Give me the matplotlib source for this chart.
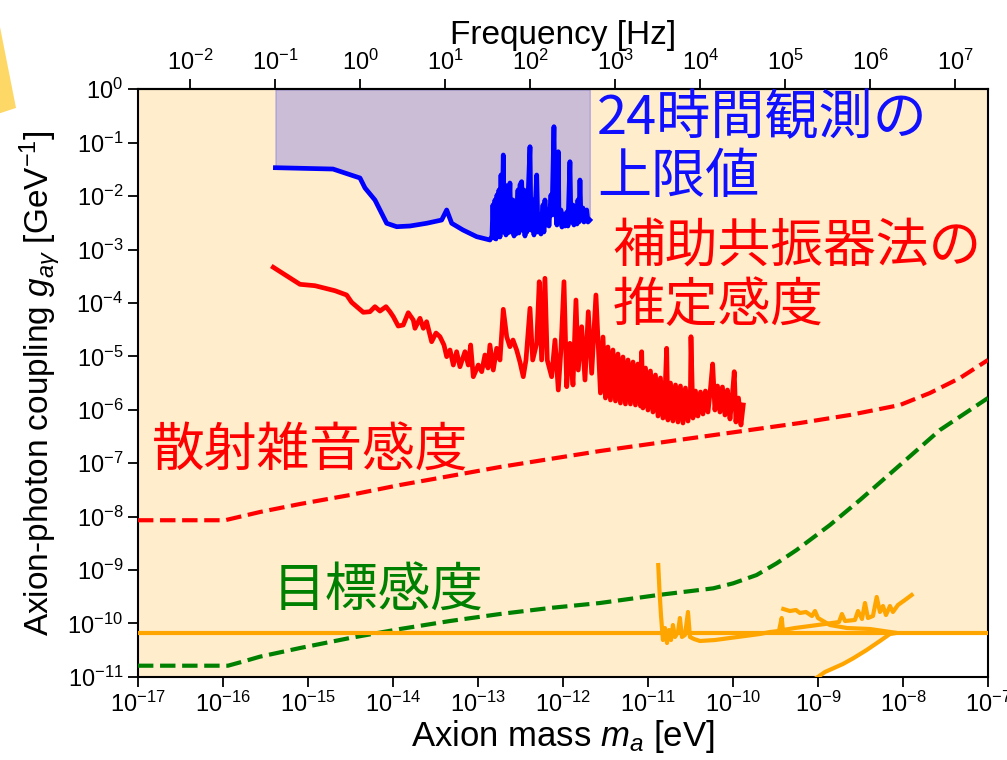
import numpy as np
import matplotlib
matplotlib.use('Agg')
import matplotlib.pyplot as plt
from matplotlib.patches import Polygon
from matplotlib.ticker import FixedLocator, NullLocator, LogFormatterSciNotation

plt.rcParams['font.family'] = ['Liberation Sans', 'DejaVu Sans']
plt.rcParams['mathtext.fontset'] = 'custom'
plt.rcParams['mathtext.rm'] = 'Liberation Sans'
plt.rcParams['mathtext.it'] = 'Liberation Sans:italic'

H_EV = 4.1357e-15  # eV s, m [eV] -> f [Hz]

# ---- data (log10 of axion mass [eV] and coupling [GeV^-1]) ----
# 24h observation upper limit (blue)
blue_logm = [-15.383, -14.706, -14.388, -14.329, -14.212, -14.074, -13.956, -13.800, -13.604, -13.427,
             -13.368, -13.309, -13.176, -13.015,
             -12.859, -12.835, -12.824, -12.812, -12.800, -12.788, -12.776, -12.765, -12.753, -12.741,
             -12.729, -12.718, -12.702, -12.694, -12.682, -12.671, -12.659, -12.647, -12.624, -12.612,
             -12.588, -12.576, -12.565, -12.553, -12.529, -12.518, -12.506, -12.486, -12.471, -12.459,
             -12.447, -12.435, -12.424, -12.412, -12.388, -12.376, -12.353, -12.341, -12.309, -12.294,
             -12.271, -12.259, -12.235, -12.224, -12.212, -12.200, -12.176, -12.165, -12.141, -12.129,
             -12.106, -12.094, -12.082, -12.071, -12.055, -12.047, -12.024, -12.012, -11.988, -11.976,
             -11.953, -11.941, -11.918, -11.906, -11.882, -11.871, -11.847, -11.835, -11.824, -11.812,
             -11.800, -11.788, -11.765, -11.753, -11.741, -11.721, -11.706, -11.684]
blue_logg = [-1.468, -1.493, -1.661, -1.848, -2.073, -2.509, -2.573, -2.560, -2.509, -2.448,
             -2.260, -2.509, -2.635, -2.760,
             -2.822, -2.747, -2.167, -2.785, -2.073, -2.803, -1.979, -2.747, -1.886, -2.766,
             -1.605, -2.672, -1.230, -2.635, -1.792, -2.728, -1.979, -2.691, -1.755, -2.672,
             -2.073, -2.747, -2.167, -2.710, -1.886, -2.691, -1.792, -1.730, -2.635, -1.886,
             -2.747, -1.979, -2.672, -2.073, -1.075, -2.635, -2.073, -2.728, -1.605, -2.672,
             -2.354, -2.710, -2.167, -2.672, -2.073, -2.541, -2.260, -2.560, -1.979, -2.354,
             -0.700, -2.167, -2.354, -2.541, -1.169, -2.448, -2.260, -2.579, -2.335, -2.560,
             -2.298, -2.560, -1.356, -2.485, -2.167, -2.541, -2.298, -2.522, -2.073, -2.485,
             -1.699, -2.448, -2.223, -2.485, -2.354, -2.260, -2.485, -2.448]

# auxiliary resonator method, estimated sensitivity (red solid)
red_logm = [-15.408, -15.094, -14.918, -14.682, -14.545, -14.486, -14.349, -14.271, -14.212, -14.153,
            -14.082, -14.035, -13.996, -13.938, -13.879, -13.820, -13.761, -13.741, -13.682, -13.643,
            -13.604, -13.545, -13.494, -13.447, -13.400, -13.368, -13.329, -13.290, -13.251, -13.212,
            -13.153, -13.114, -13.086, -13.055, -12.996, -12.956, -12.918, -12.882, -12.859, -12.820,
            -12.780, -12.741, -12.702, -12.662, -12.624, -12.588, -12.545, -12.506, -12.467, -12.435,
            -12.388, -12.356, -12.309, -12.279, -12.251, -12.212, -12.185, -12.133, -12.094, -12.055,
            -12.024, -11.988, -11.956, -11.918, -11.882, -11.847, -11.820, -11.780, -11.741, -11.702,
            -11.662, -11.612,
            -11.588, -11.559, -11.529, -11.500, -11.471, -11.441, -11.412, -11.382, -11.353, -11.324,
            -11.294, -11.265, -11.235, -11.206, -11.176, -11.147, -11.118, -11.088, -11.074, -11.059,
            -11.029, -11.000, -10.971, -10.941, -10.912, -10.882, -10.853, -10.824, -10.794, -10.780,
            -10.765, -10.735, -10.706, -10.676, -10.647, -10.618, -10.588, -10.559, -10.529, -10.500,
            -10.494, -10.471, -10.441, -10.412, -10.382, -10.353, -10.324, -10.294, -10.265, -10.239,
            -10.212, -10.182, -10.153, -10.124, -10.094, -10.065, -10.035, -10.006, -9.985, -9.965,
            -9.935, -9.906, -9.879]
red_logg = [-3.333, -3.652, -3.678, -3.772, -3.852, -3.989, -4.176, -4.165, -4.071, -4.152,
            -4.071, -4.165, -4.258, -4.433, -4.414, -4.184, -4.320, -4.476, -4.288, -4.476,
            -4.352, -4.727, -4.564, -4.633, -4.788, -5.007, -4.882, -5.163, -4.914, -5.195,
            -4.914, -5.163, -4.788, -5.382, -5.163, -5.288, -4.976, -5.219, -4.788, -5.257,
            -4.850, -5.069, -4.120, -4.633, -4.820, -4.695, -4.882, -5.107, -5.382, -5.069,
            -4.101, -5.069, -4.757, -3.603, -5.069, -3.539, -5.069, -5.382, -4.695, -5.631,
            -4.882, -3.603, -5.569, -4.757, -5.537, -3.946, -5.257, -4.446, -5.444, -4.165,
            -5.318, -3.852,
            -4.695, -5.687, -4.639, -5.781, -4.826, -5.818, -4.882, -5.837, -4.957, -5.875,
            -5.013, -5.893, -5.069, -5.893, -5.107, -5.912, -5.144, -5.931, -4.914, -5.968,
            -5.219, -6.006, -5.275, -6.043, -5.350, -6.118, -5.406, -6.156, -5.444, -4.850,
            -6.193, -5.500, -6.212, -5.537, -6.230, -5.556, -6.249, -5.594, -6.212, -5.612,
            -4.633, -6.156, -5.650, -6.118, -5.669, -6.080, -5.650, -6.043, -5.612, -5.144,
            -6.006, -5.556, -6.043, -5.575, -6.099, -5.631, -6.174, -5.704, -5.288, -6.230,
            -5.781, -6.287, -5.912]

# shot noise sensitivity (red dashed)
shot_logm = [-17.0, -15.976, -15.565, -15.094, -14.506, -13.918, -13.329, -12.741, -12.153, -11.565,
             -10.976, -10.388, -9.800, -9.212, -8.624, -8.035, -7.682, -7.329, -7.000]
shot_logg = [-8.07, -8.07, -7.916, -7.766, -7.598, -7.410, -7.242, -7.073, -6.923, -6.774,
             -6.642, -6.511, -6.380, -6.249, -6.099, -5.912, -5.687, -5.406, -5.069]

# target sensitivity (green dashed)
goal_logm = [-17.0, -15.941, -15.741, -15.565, -15.094, -14.506, -13.918, -13.329, -12.741, -12.153,
             -11.565, -10.879, -10.232, -9.997, -9.722, -9.486, -9.251, -8.859, -8.506, -8.035,
             -7.565, -7.000]
goal_logg = [-10.794, -10.794, -10.706, -10.625, -10.463, -10.275, -10.107, -9.957, -9.826, -9.713,
             -9.620, -9.470, -9.345, -9.251, -9.096, -8.876, -8.627, -8.159, -7.691, -7.036,
             -6.380, -5.781]

# other limits (orange)
cast_g = 6.6e-11
or1_logm = [-7.898, -7.976, -8.059, -8.118, -8.153, -8.200, -8.235, -8.271, -8.309, -8.353,
            -8.412, -8.447, -8.482, -8.529, -8.565, -8.682, -8.718, -8.753, -8.918, -9.094,
            -9.271, -9.412, -9.427, -9.459, -9.565, -9.682, -9.859, -10.035, -10.212, -10.388,
            -10.459, -10.506, -10.529, -10.565, -10.600, -10.624, -10.647, -10.682, -10.706, -10.729,
            -10.753, -10.776, -10.800, -10.824, -10.847, -10.865, -10.879]
or1_logg = [-9.470, -9.563, -9.657, -9.788, -9.676, -9.845, -9.676, -9.788, -9.507, -9.863,
            -9.901, -9.620, -9.919, -9.770, -9.938, -9.957, -9.826, -9.976, -10.013, -10.051,
            -10.088, -10.126, -9.901, -10.144, -10.163, -10.200, -10.238, -10.275, -10.313, -10.331,
            -10.294, -10.256, -9.788, -10.219, -10.256, -9.901, -10.163, -10.256, -10.032, -10.313,
            -10.126, -10.369, -10.088, -10.313, -9.845, -9.377, -8.909]
loop_logm = [-9.408, -9.329, -9.259, -9.212, -9.141, -9.071, -9.035, -9.000, -8.859, -8.659, -8.388]
loop_logg = [-9.732, -9.770, -9.751, -9.807, -9.788, -9.863, -9.770, -9.901, -10.032, -10.088, -10.107]
branch_logm = [-8.074, -8.153, -8.271, -8.427, -8.585, -8.706, -8.820, -8.918, -8.996, -9.094]
branch_logg = [-10.18, -10.200, -10.331, -10.500, -10.655, -10.762, -10.843, -10.912, -11.000, -11.100]

p = lambda a: np.power(10.0, np.array(a))

fig = plt.figure(figsize=(10.07, 7.6), dpi=100)
ax = fig.add_axes([0.137, 0.1096, 0.8441, 0.7729])
ax.set_xscale('log')
ax.set_yscale('log')

# excluded region background
fill_m = np.concatenate([[1e-17], p(branch_logm[::-1][1:]), [1e-7]])
fill_g = np.concatenate([[1e-11], p(branch_logg[::-1][1:]), [cast_g]])
ax.fill_between(fill_m, fill_g, 1.0, color='orange', alpha=0.2, lw=0, zorder=0)

ax.fill_between(p(blue_logm), p(blue_logg), 1.0, color='blue', alpha=0.2, lw=1, zorder=1)
ax.plot(p(blue_logm), p(blue_logg), color='blue', lw=3.4, zorder=4)
ax.plot(p(red_logm), p(red_logg), color='red', lw=3.4, zorder=4)
ax.plot(p(shot_logm), p(shot_logg), color='red', lw=3, ls='--', zorder=3)
ax.plot(p(goal_logm), p(goal_logg), color='green', lw=3, ls='--', zorder=3)
ax.axhline(cast_g, color='orange', lw=3, zorder=3)
ax.plot(p(or1_logm), p(or1_logg), color='orange', lw=3, zorder=3)
ax.plot(p(loop_logm + branch_logm), p(loop_logg + branch_logg), color='orange', lw=3, zorder=3)

ax.set_xlim(1e-17, 1e-7)
ax.set_ylim(1e-11, 1.0)
ax.xaxis.set_major_locator(FixedLocator([10.0 ** k for k in range(-17, -6)]))
ax.yaxis.set_major_locator(FixedLocator([10.0 ** k for k in range(-11, 1)]))
ax.xaxis.set_minor_locator(NullLocator())
ax.yaxis.set_minor_locator(NullLocator())
ax.tick_params(direction='out', length=7, width=1.3, labelsize=17)
for s in ax.spines.values():
    s.set_linewidth(1.5)

secax = ax.secondary_xaxis('top', functions=(lambda m: m / H_EV, lambda f: f * H_EV))
secax.xaxis.set_major_locator(FixedLocator([10.0 ** k for k in range(-2, 8)]))
secax.xaxis.set_minor_locator(NullLocator())
secax.xaxis.set_major_formatter(LogFormatterSciNotation())
secax.tick_params(direction='out', length=7, width=1.3, labelsize=17)
secax.spines['top'].set_linewidth(1.5)
secax.set_xlabel('Frequency [Hz]', fontsize=24, labelpad=4)

ax.set_xlabel(r'Axion mass $m_a$ [eV]', fontsize=25, labelpad=1)
ax.set_ylabel(r'Axion-photon coupling $g_{a\gamma}$ [GeV$^{-1}$]', fontsize=24, labelpad=3)

jp = ['Noto Sans CJK JP', 'DejaVu Sans']
ax.text(0.540, 0.997, '24時間観測の\n上限値', transform=ax.transAxes, color='#1010ff',
        fontsize=39, family=jp, va='top', ha='left', linespacing=1.08)
ax.text(0.558, 0.780, '補助共振器法の\n推定感度', transform=ax.transAxes, color='red',
        fontsize=38, family=jp, va='top', ha='left', linespacing=1.1)
ax.text(0.016, 0.430, '散射雑音感度', transform=ax.transAxes, color='red',
        fontsize=38, family=jp, va='top', ha='left')
ax.text(0.158, 0.193, '目標感度', transform=ax.transAxes, color='green',
        fontsize=38, family=jp, va='top', ha='left')

# yellow decoration in the corner
fig.patches.append(Polygon([[0, 0.9645], [0.0159, 0.858], [0, 0.851]], closed=True,
                           transform=fig.transFigure, color='#fed866', lw=0))

fig.savefig('out.png', dpi=100)
